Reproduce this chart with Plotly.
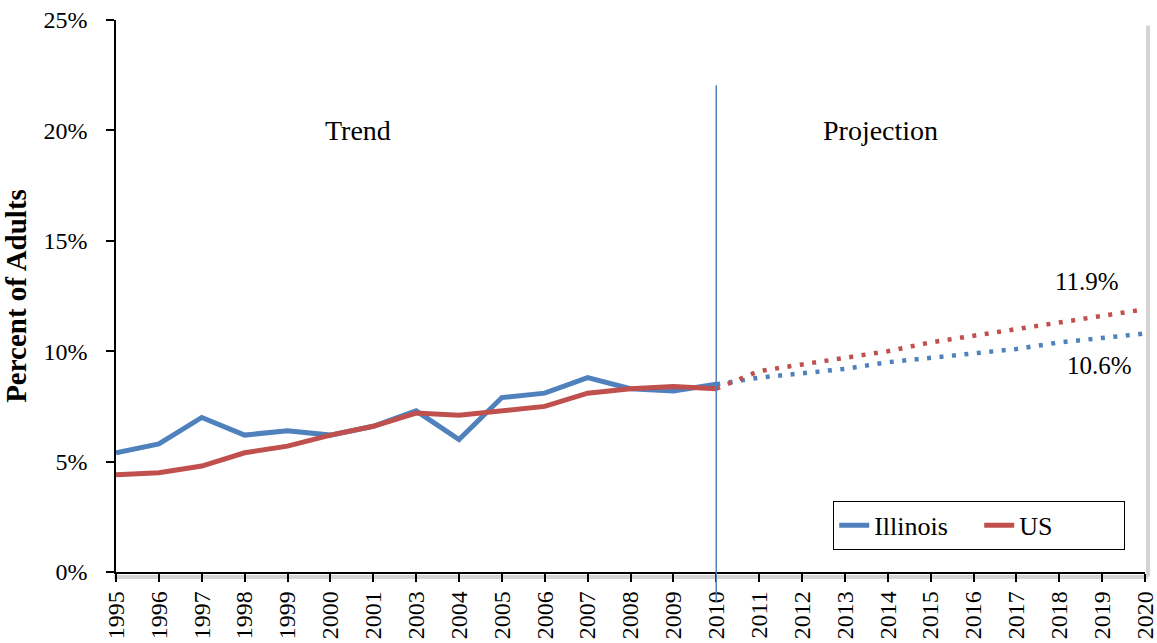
# line chart of adult prevalence: trend 1995-2010 and projection to 2020

import plotly.graph_objects as go

# categories (no 2002 data point in the source chart)
TREND_YEARS = ["1995", "1996", "1997", "1998", "1999", "2000", "2001", "2003",
               "2004", "2005", "2006", "2007", "2008", "2009", "2010"]
PROJ_YEARS = ["2010", "2011", "2012", "2013", "2014", "2015", "2016", "2017",
              "2018", "2019", "2020"]

# series values, percent of adults
ILLINOIS_TREND = [5.4, 5.8, 7.0, 6.2, 6.4, 6.2, 6.6, 7.3, 6.0, 7.9, 8.1, 8.8, 8.3, 8.2, 8.5]
US_TREND = [4.4, 4.5, 4.8, 5.4, 5.7, 6.2, 6.6, 7.2, 7.1, 7.3, 7.5, 8.1, 8.3, 8.4, 8.3]
ILLINOIS_PROJ = [8.5, 8.8, 9.0, 9.2, 9.5, 9.7, 9.9, 10.1, 10.4, 10.6, 10.8]
US_PROJ = [8.3, 9.1, 9.4, 9.7, 10.0, 10.4, 10.7, 11.0, 11.3, 11.6, 11.9]

# end-of-projection labels
END_LABELS = ["11.9%", "10.6%"]

# y axis ticks
Y_TICKS = [0, 5, 10, 15, 20, 25]
Y_TICK_LABELS = ["0%", "5%", "10%", "15%", "20%", "25%"]

BLUE = "#4F81BD"
RED = "#C0504D"
FONT = "Liberation Serif"


def make_trend_chart() -> go.Figure:
    categories = TREND_YEARS + PROJ_YEARS[1:]

    fig = go.Figure()

    # solid trend lines
    fig.add_scatter(x=TREND_YEARS, y=ILLINOIS_TREND, name="Illinois", mode="lines",
                    line=dict(color=BLUE, width=5))
    fig.add_scatter(x=TREND_YEARS, y=US_TREND, name="US", mode="lines",
                    line=dict(color=RED, width=5))

    # dotted projections
    fig.add_scatter(x=PROJ_YEARS, y=ILLINOIS_PROJ, mode="lines", showlegend=False,
                    line=dict(color=BLUE, width=4.5, dash="4px,8.5px"))
    fig.add_scatter(x=PROJ_YEARS, y=US_PROJ, mode="lines", showlegend=False,
                    line=dict(color=RED, width=4.5, dash="4px,8.5px"))

    # divider between trend and projection (paper coords so it can run past the axis)
    split = categories.index("2010") / (len(categories) - 1)
    fig.add_shape(type="line", xref="paper", yref="paper", x0=split, x1=split,
                  y0=-0.055, y1=0.882, line=dict(color=BLUE, width=1.5))

    # soft shadow along right and bottom edges
    fig.add_shape(type="line", xref="paper", yref="paper", x0=1.003, x1=1.003,
                  y0=-0.008, y1=0.99, line=dict(color="#d4d4d4", width=4))
    fig.add_shape(type="line", xref="paper", yref="paper", x0=-0.002, x1=1.003,
                  y0=-0.009, y1=-0.009, line=dict(color="#d4d4d4", width=4), layer="below")

    # text labels inside the plot
    label_font = dict(family=FONT, size=28, color="black")
    end_font = dict(family=FONT, size=25, color="black")
    fig.update_layout(
        annotations=[
            dict(text="Trend", xref="paper", yref="y", x=0.2354, y=20, xanchor="center",
                 yanchor="middle", showarrow=False, font=label_font),
            dict(text="Projection", xref="paper", yref="y", x=0.7426, y=20, xanchor="center",
                 yanchor="middle", showarrow=False, font=label_font),
            dict(text=END_LABELS[0], xref="paper", yref="y", x=0.944, y=13.14,
                 xanchor="center", yanchor="middle", showarrow=False, font=end_font),
            dict(text=END_LABELS[1], xref="paper", yref="y", x=0.956, y=9.36,
                 xanchor="center", yanchor="middle", showarrow=False, font=end_font),
        ],
    )

    fig.update_layout(
        font=dict(family=FONT, size=24, color="black"),
        paper_bgcolor="white",
        plot_bgcolor="white",
        width=1157,
        height=643,
        margin=dict(l=116, r=12, t=20, b=71, pad=0),
        showlegend=True,
        legend=dict(
            orientation="h",
            x=0.697, y=0.04, xanchor="left", yanchor="bottom",
            bgcolor="white", bordercolor="black", borderwidth=1,
            font=dict(family=FONT, size=26),
            entrywidth=100, entrywidthmode="pixels",
        ),
        xaxis=dict(
            type="category",
            categoryorder="array",
            categoryarray=categories,
            range=[0, len(categories) - 1],
            showline=True, linecolor="black", linewidth=1.5,
            ticks="outside", ticklen=8, tickcolor="black", tickwidth=1.5,
            tickangle=-90,
            tickfont=dict(family=FONT, size=24),
            showgrid=False, zeroline=False,
            automargin=False,
        ),
        yaxis=dict(
            range=[0, 25],
            tickmode="array",
            tickvals=Y_TICKS,
            ticktext=Y_TICK_LABELS,
            showline=True, linecolor="black", linewidth=1.5,
            ticks="outside", ticklen=8, tickcolor="black", tickwidth=1.5,
            tickfont=dict(family=FONT, size=24),
            showgrid=False, zeroline=False,
            ticklabelstandoff=14,
            automargin=False,
            title=dict(text="<b>Percent of Adults</b>", font=dict(family=FONT, size=29),
                       standoff=28),
        ),
    )

    return fig


fig = make_trend_chart()
# drop the browser's default body margin so the 1157x643 figure fills the window
fig.write_html("out.html", config={"displayModeBar": False},
               post_script="document.body.style.margin='0';")
